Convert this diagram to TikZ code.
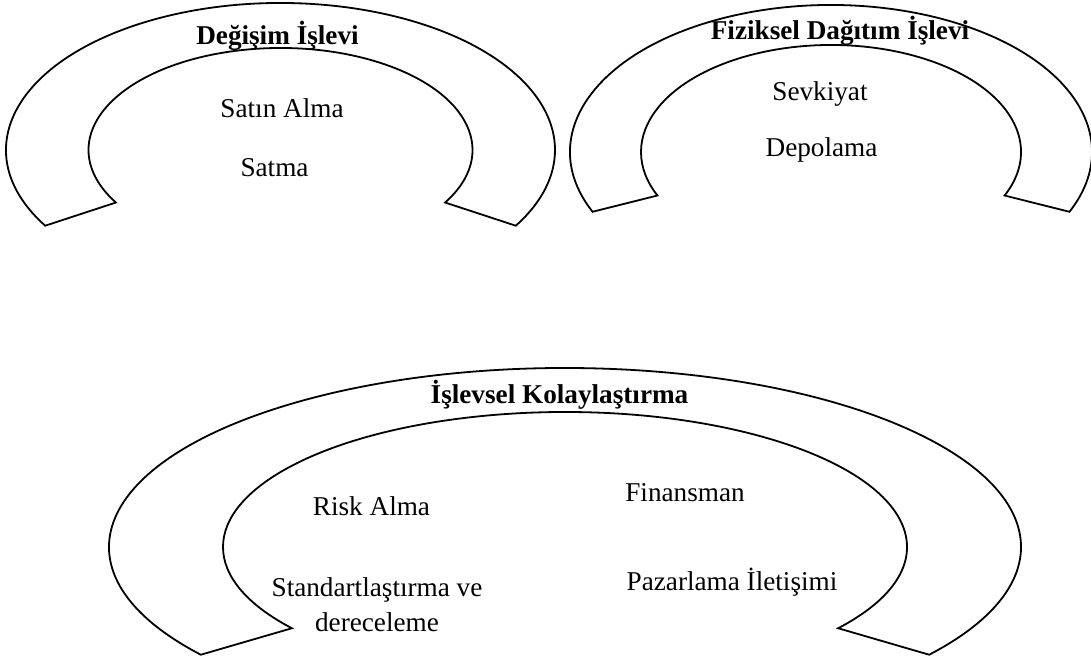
\documentclass[tikz,border=0pt]{standalone}
\usepackage{fontspec}
\setmainfont{Liberation Serif}

\begin{document}
\begin{tikzpicture}[x=0.5pt, y=0.5pt, line width=0.9pt,
    every node/.style={font=\fontsize{13.6}{17.5}\selectfont, anchor=base, inner sep=0pt},
    titletext/.style={font=\fontsize{13.6}{17.5}\selectfont\bfseries}]
            \useasboundingbox (0,0) rectangle (1091,658);
            \draw
                ([shift={(211:274.5 and 147)}]280.5,508) arc[start angle=211, end angle=-31, x radius=274.5, y radius=147]
                -- ([shift={(-31:192 and 102)}]280.5,508) arc[start angle=-31, end angle=211, x radius=192, y radius=102] -- cycle;
            \draw
                ([shift={(204:261 and 147)}]831,506) arc[start angle=204, end angle=-24, x radius=261, y radius=147]
                -- ([shift={(-24:190 and 107)}]831,506) arc[start angle=-24, end angle=204, x radius=190, y radius=107] -- cycle;
            \draw
                ([shift={(217:456 and 179)}]565,111) arc[start angle=217, end angle=-37, x radius=456, y radius=179]
                -- ([shift={(-37:342 and 135)}]565,111) arc[start angle=-37, end angle=217, x radius=342, y radius=135] -- cycle;
            \node[titletext] (degisim) at (277.5,613) {Değişim İşlevi};
            \node (satinalma) at (282,540) {Satın Alma};
            \node (satma) at (274.5,481) {Satma};
            \node[titletext] (fiziksel) at (840,618) {Fiziksel Dağıtım İşlevi};
            \node (sevkiyat) at (820,557) {Sevkiyat};
            \node (depolama) at (821.5,501) {Depolama};
            \node[titletext] (islevsel) at (559.5,254) {İşlevsel Kolaylaştırma};
            \node (riskalma) at (371.5,142) {Risk Alma};
            \node (finansman) at (685,156) {Finansman};
            \node[align=center] (standart) at (377,26) {Standartlaştırma ve\\dereceleme};
            \node (pazarlama) at (732,68) {Pazarlama İletişimi};
        \end{tikzpicture}
\end{document}
